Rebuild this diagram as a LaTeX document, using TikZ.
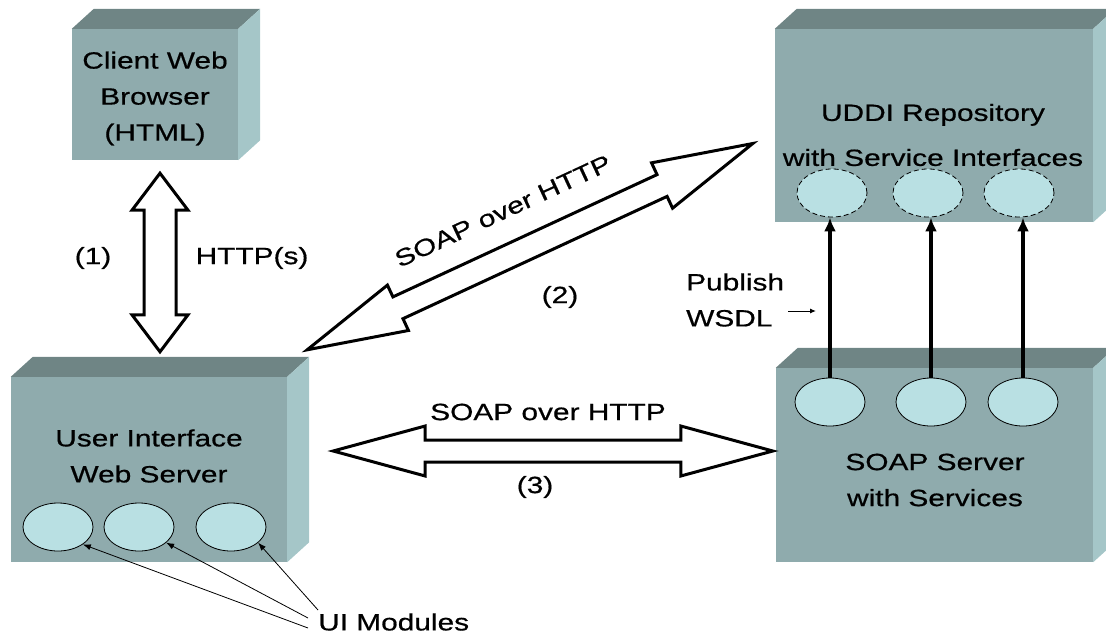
\documentclass[tikz,border=0pt]{standalone}
\usepackage{fontspec}
\setmainfont{Liberation Sans}[FakeStretch=1.27,FakeBold=0.6]
\usepackage{tikz}
\usetikzlibrary{arrows.meta,calc,shapes,positioning}

\definecolor{boxfront}{HTML}{8FABAD}
\definecolor{boxtop}{HTML}{6F8585}
\definecolor{boxside}{HTML}{A5C6C8}
\definecolor{modfill}{HTML}{B9E0E3}

% top and side faces of a box node
\newcommand{\boxfaces}[1]{%
	\fill[boxtop] (#1.north west) -- ++(22,-20) -- ($(#1.north east)+(22,-20)$) -- (#1.north east) -- cycle;
	\fill[boxside] (#1.north east) -- ++(22,-20) -- ($(#1.south east)+(22,-20)$) -- (#1.south east) -- cycle;
}

% hollow double arrow: from, to, shaft half width, head half width, head length
\newcommand{\hollowarrow}[5]{%
	\coordinate (ha) at ($(#1)!#5!(#2)$);
	\coordinate (hb) at ($(#2)!#5!(#1)$);
	\filldraw[hollow] (#1) -- ($(ha)!#4!90:(#2)$) -- ($(ha)!#3!90:(#2)$) -- ($(hb)!#3!-90:(#1)$)
		-- ($(hb)!#4!-90:(#1)$) -- (#2) -- ($(hb)!#4!90:(#1)$) -- ($(hb)!#3!90:(#1)$)
		-- ($(ha)!#3!-90:(#2)$) -- ($(ha)!#4!-90:(#2)$) -- cycle;
}

\begin{document}
\begin{tikzpicture}[x=1pt,y=-1pt]
\tikzset{
	cube/.style = {fill=boxfront, inner sep=0},
	module/.style = {ellipse, draw, fill=modfill, minimum width=70, minimum height=48, inner sep=0, line width=0.8},
	iface/.style = {module, dash pattern=on 5pt off 3pt},
	lbl/.style = {font=\fontsize{23.5}{36}\selectfont, align=center, inner sep=0},
	hollow/.style = {draw, fill=white, line width=3, line join=miter},
	pub/.style = {line width=3.5, -{Latex[length=14,width=12]}},
	modarrow/.style = {line width=0.8, -{Latex[length=8,width=6]}},
}
\useasboundingbox (0,0) rectangle (1106,635);
\clip (0,0) rectangle (1106,635);

% boxes
\node[cube, minimum width=166, minimum height=131] (client) at (155,94.5) {};
\node[cube, minimum width=276, minimum height=185] (ui) at (149,469.5) {};
\node[cube, minimum width=318, minimum height=193] (uddi) at (934,125.5) {};
\node[cube, minimum width=317, minimum height=194] (soap) at (934.5,465) {};
\boxfaces{client}
\boxfaces{ui}
\boxfaces{uddi}
\boxfaces{soap}

\node[lbl] at ($(client)+(0,4)$) {Client Web\\Browser\\(HTML)};
\node[lbl] at (149,456) {User Interface\\Web Server};
\node[lbl] at (933,135) {UDDI Repository\\[9pt]with Service Interfaces};
\node[lbl] at (935,480) {SOAP Server\\with Services};

% modules
\node[module] (m1) at (58,527) {};
\node[module] (m2) at (139,527) {};
\node[module] (m3) at (231,527) {};
\node[iface] (u1) at (832,193) {};
\node[iface] (u2) at (928,193) {};
\node[iface] (u3) at (1019,193) {};
\node[module] (s1) at (830,402) {};
\node[module] (s2) at (931,402) {};
\node[module] (s3) at (1023,402) {};

\foreach \i in {1,2,3}
	\draw[pub] (s\i.north) -- (s\i.north |- u\i.south);

% protocol arrows
\coordinate (a1) at ($(client.south)+(5,13)$);
\coordinate (b1) at ($(ui.north)+(11,-25)$);
\hollowarrow{a1}{b1}{16pt}{28pt}{37pt}
\coordinate (a2) at ($(ui.north east)+(20,-27)$);
\coordinate (b2) at ($(uddi.west)+(-22,18)$);
\hollowarrow{a2}{b2}{12pt}{25pt}{100pt}
\coordinate (a3) at ($(ui.east)+(46,-18.5)$);
\coordinate (b3) at ($(soap.west)+(-3,-14)$);
\hollowarrow{a3}{b3}{11pt}{25pt}{92pt}

\node[lbl] at (93,258) {(1)};
\node[lbl] at (252,258) {HTTP(s)};
\node[lbl, rotate=24.9] at (503,211) {SOAP over HTTP};
\node[lbl] at (560,297) {(2)};
\node[lbl] at (548,412) {SOAP over HTTP};
\node[lbl] at (535,487) {(3)};

% publish label
\node[lbl, align=left, anchor=west] (pubtext) at (686,300) {Publish\\WSDL};
\coordinate (wtail) at (788,311);
\coordinate (whead) at (816,311);
\draw[line width=1, -{Latex[length=6,width=5]}] (wtail) -- (whead);

% ui modules
\node[lbl, anchor=west] (mods) at (318,622) {UI Modules};
\draw[modarrow] ($(mods.west)+(0,-12)$) -- (m3.-30);
\draw[modarrow] ($(mods.west)+(-10,-4)$) -- (m2.-30);
\draw[modarrow] ($(mods.west)+(-10,6)$) -- (m1.-35);

\end{tikzpicture}
\end{document}
